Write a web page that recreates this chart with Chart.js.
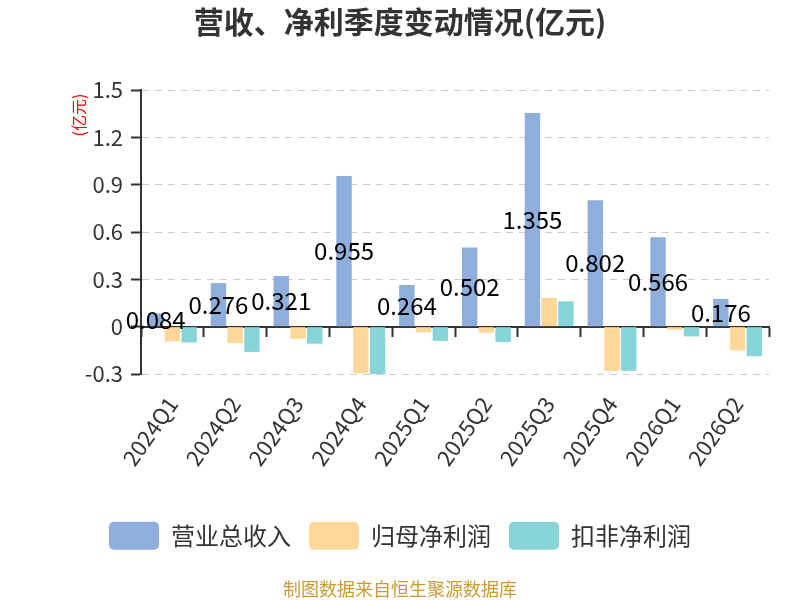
<!DOCTYPE html>
<html>
<head>
<meta charset="utf-8">
<script src="https://cdn.jsdelivr.net/npm/chart.js@4"></script>
<style>
  html, body { margin: 0; padding: 0; background: #fff; }
  #wrap { width: 800px; height: 600px; }
</style>
</head>
<body>
<div id="wrap"><canvas id="myChart" width="800" height="600"></canvas></div>
<script>
const quarters = ['2024Q1', '2024Q2', '2024Q3', '2024Q4', '2025Q1', '2025Q2', '2025Q3', '2025Q4', '2026Q1', '2026Q2'];
const revenue = [0.084, 0.276, 0.321, 0.955, 0.264, 0.502, 1.355, 0.802, 0.566, 0.176];
const netProfit = [-0.093, -0.104, -0.076, -0.295, -0.036, -0.038, 0.182, -0.28, -0.02, -0.15];
const deductedProfit = [-0.10, -0.16, -0.108, -0.30, -0.09, -0.097, 0.161, -0.28, -0.062, -0.187];
const yTicks = [-0.3, 0, 0.3, 0.6, 0.9, 1.2, 1.5];

const FONT = '"Noto Sans CJK SC", "Noto Sans", sans-serif';

// value labels on the revenue bars, centred in the bar
const barLabels = {
    id: 'barLabels',
    afterDatasetsDraw(chart) {
        const ctx = chart.ctx;
        const meta = chart.getDatasetMeta(0);
        ctx.save();
        ctx.font = '24px ' + FONT;
        ctx.fillStyle = '#000';
        ctx.textAlign = 'center';
        ctx.textBaseline = 'middle';
        meta.data.forEach((bar, i) => {
            const p = bar.getProps(['x', 'y', 'base'], true);
            ctx.fillText(revenue[i].toFixed(3), p.x, (p.y + p.base) / 2);
        });
        ctx.restore();
    }
};

// unit label "(亿元)" near the top of the y axis
const unitLabel = {
    id: 'unitLabel',
    afterDraw(chart) {
        const ctx = chart.ctx;
        ctx.save();
        ctx.translate(79, 115);
        ctx.rotate(-Math.PI / 2);
        ctx.font = '16px ' + FONT;
        ctx.fillStyle = '#ff0000';
        ctx.textAlign = 'center';
        ctx.textBaseline = 'middle';
        ctx.fillText('(亿元)', 0, 0);
        ctx.restore();
    }
};

const ctx = document.getElementById('myChart');

new Chart(ctx, {
    type: 'bar',
    data: {
        labels: quarters,
        datasets: [
            { label: '营业总收入', data: revenue, backgroundColor: '#8EAEDB' },
            { label: '归母净利润', data: netProfit, backgroundColor: '#FFD899' },
            { label: '扣非净利润', data: deductedProfit, backgroundColor: '#88D5D9' }
        ]
    },
    plugins: [barLabels, unitLabel],
    options: {
        responsive: false,
        animation: false,
        devicePixelRatio: 1,
        categoryPercentage: 0.8,
        barPercentage: 0.92,
        layout: { padding: 0 },
        scales: {
            x: {
                type: 'category',
                position: { y: 0 },
                ticks: { display: false },
                grid: {
                    drawOnChartArea: false,
                    drawTicks: true,
                    tickLength: 9,
                    tickWidth: 2,
                    tickColor: '#333',
                    offset: true
                },
                border: { display: true, color: '#333', width: 2 }
            },
            x2: {
                type: 'category',
                labels: quarters,
                position: 'bottom',
                grid: { display: false },
                border: { display: false },
                ticks: {
                    minRotation: 55,
                    maxRotation: 55,
                    padding: 10,
                    color: '#333',
                    font: { size: 22, family: FONT }
                },
                afterFit(scale) { scale.height = 129.7; }
            },
            y: {
                min: -0.3,
                max: 1.5,
                afterBuildTicks(scale) { scale.ticks = yTicks.map(v => ({ value: v })); },
                ticks: {
                    padding: 8,
                    color: '#333',
                    font: { size: 22, family: FONT },
                    callback: v => String(Number(v.toFixed(1)))
                },
                grid: {
                    color: '#cccccc',
                    lineWidth: 1,
                    tickLength: 10,
                    tickWidth: 2,
                    tickColor: '#333'
                },
                border: { display: true, color: '#333', width: 2, dash: [7, 6] },
                afterFit(scale) { scale.width = 141; }
            },
            // empty right-hand gutter so title and legend stay centred on the page
            gutter: {
                type: 'linear',
                position: 'right',
                display: true,
                grid: { display: false },
                border: { display: false },
                ticks: { display: false },
                afterFit(scale) { scale.width = 31; }
            }
        },
        plugins: {
            title: {
                display: true,
                text: '营收、净利季度变动情况(亿元)',
                color: '#333',
                font: { size: 30, weight: 'bold', family: FONT },
                padding: { top: 4, bottom: 50 }
            },
            legend: {
                position: 'bottom',
                labels: {
                    boxWidth: 50,
                    boxHeight: 28,
                    useBorderRadius: true,
                    borderRadius: 5,
                    padding: 18,
                    color: '#333',
                    font: { size: 24, family: FONT }
                }
            },
            subtitle: {
                display: true,
                position: 'bottom',
                text: '制图数据来自恒生聚源数据库',
                color: '#C99A36',
                font: { size: 18, family: FONT },
                padding: { top: 18.7, bottom: 0 }
            },
            tooltip: { enabled: false }
        }
    }
});
</script>
</body>
</html>
